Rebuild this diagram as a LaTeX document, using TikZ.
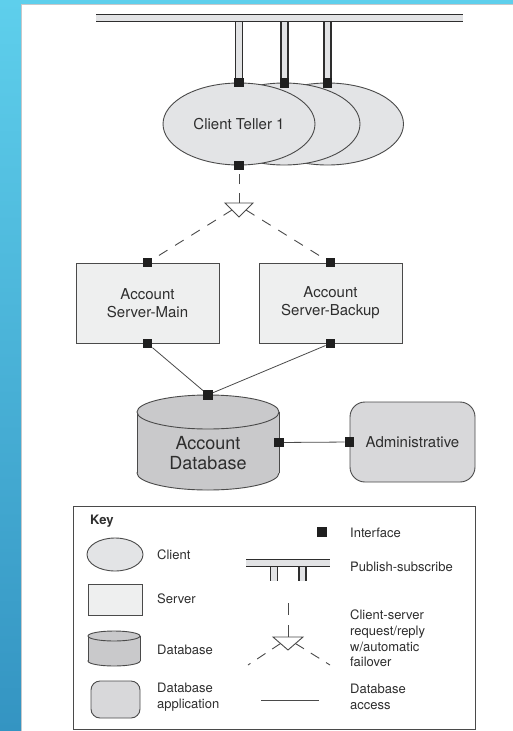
\documentclass[tikz,border=0pt]{standalone}
\usepackage{fontspec}
\setmainfont{TeX Gyre Heros}
\usetikzlibrary{shapes.geometric}
\definecolor{ink}{HTML}{2E2E2E}
\definecolor{edge}{HTML}{4A4A4A}
\definecolor{clientfill}{HTML}{E3E4E6}
\definecolor{serverfill}{HTML}{EEEFEF}
\definecolor{dbfill}{HTML}{C9C9CB}
\definecolor{appfill}{HTML}{D8D8DA}
\definecolor{pipefill}{HTML}{E2E3E5}
\definecolor{skytop}{HTML}{5ECFEC}
\definecolor{skybot}{HTML}{3494C2}
\definecolor{rim}{HTML}{C6C8CA}
\tikzset{
  every node/.style={text=ink},
  iface/.style={rectangle, fill=black!88, minimum size=9.5pt, inner sep=0pt},
  client/.style={ellipse, draw=edge, fill=clientfill, line width=0.9pt, minimum width=152pt, minimum height=82pt, inner sep=0pt, font=\fontsize{15}{18}\selectfont},
  server/.style={rectangle, draw=edge, fill=serverfill, line width=0.9pt, minimum width=143pt, minimum height=80pt, inner sep=0pt, align=center, font=\fontsize{15}{18}\selectfont},
  app/.style={rectangle, rounded corners=15pt, draw=edge, fill=appfill, line width=0.9pt, minimum width=125pt, minimum height=80pt, inner sep=0pt, font=\fontsize{15}{18}\selectfont},
  pipe/.style={draw=ink, line width=1.2pt, double=pipefill, double distance=5.8pt},
  req/.style={draw=edge, line width=0.9pt, dash pattern=on 10pt off 9pt},
  dbline/.style={draw=edge, line width=0.8pt},
  tri/.style={draw=edge, fill=white, line width=0.9pt, line join=miter},
  keytext/.style={anchor=west, align=left, inner sep=0pt, font=\fontsize{13}{15.7}\selectfont},
}
\begin{document}
\begin{tikzpicture}[x=1pt,y=-1pt]
\useasboundingbox (0,0) rectangle (513,731);
% background
\fill[white] (0,0) rectangle (513,731);
\shade[top color=skytop,bottom color=skybot] (0,0) rectangle (21,731);
\fill[skytop] (21,0) rectangle (513,3.5);
\draw[rim, line width=1.4pt] (21.7,731) -- (21.7,4.3) -- (513,4.3);

% ---------- clients ----------
\node[client] (c3) at (327.5,124) {};
\node[client] (c2) at (284,124) {};
\node[client] (c1) at (239,124) {Client Teller 1};

% publish-subscribe bus
\coordinate (busL) at (96,18);
\coordinate (busR) at (463,18);
\coordinate (bus1) at (239,18);
\coordinate (bus2) at (284.5,18);
\coordinate (bus3) at (327.5,18);
\node[iface] (i1) at (c1.north) {};
\node[iface] (i2) at (284.5,83) {};
\node[iface] (i3) at (327.5,83) {};
\draw[pipe] (bus1) -- (i1.center);
\draw[pipe] (bus2) -- (i2.center);
\draw[pipe] (bus3) -- (i3.center);
\draw[pipe] (busL) -- (busR);
\node[iface] at (i1) {};
\node[iface] at (i2) {};
\node[iface] at (i3) {};

% request/reply with failover
\node[iface] (c1b) at (c1.south) {};
\coordinate (tri) at (239,203);
\coordinate (triL) at (232,210);
\coordinate (triR) at (246,210);

\node[server] (s1) at (147.5,303) {Account\\Server-Main};
\node[server] (s2) at (330.5,303) {Account\\Server-Backup};
\node[iface] (s1t) at (s1.north) {};
\node[iface] (s2t) at (s2.north) {};
\node[iface] (s1b) at (s1.south) {};
\node[iface] (s2b) at (s2.south) {};

\draw[req] (tri) -- (c1b);
\draw[req] (triL) -- (s1t);
\draw[req] (triR) -- (s2t);
\draw[tri] (225,203) -- (253,203) -- (239,217) -- cycle;

% ---------- database ----------
\draw[edge, fill=dbfill, line width=0.9pt] (208,473) ellipse [x radius=71, y radius=17];
\fill[dbfill] (137,412) rectangle (279,473);
\draw[edge, line width=0.9pt] (137,412) -- (137,473) (279,412) -- (279,473);
\draw[edge, fill=dbfill, line width=0.9pt] (208,412) ellipse [x radius=71, y radius=17];
\node[minimum width=142pt, minimum height=95pt, inner sep=0pt] (db) at (208,442.5) {};
\node[align=center, font=\fontsize{18}{20}\selectfont, inner sep=0pt] (dblabel) at (208,453) {Account\\Database};

\node[app] (adm) at (412.5,442) {Administrative};

\node[iface] (dbt) at (db.north) {};
\node[iface] (dbr) at (db.east) {};
\node[iface] (admw) at (adm.west) {};
\draw[dbline] (s1b) -- (dbt);
\draw[dbline] (s2b) -- (dbt);
\draw[dbline] (dbr) -- (admw);

% ---------- key ----------
\node[draw=edge, line width=0.9pt, minimum width=402pt, minimum height=223pt, inner sep=0pt] (key) at (274,617.5) {};
\node[anchor=west, inner sep=0pt, font=\fontsize{13}{15.7}\selectfont\bfseries] (keyt) at (90,521) {Key};

\node[client, minimum width=56pt, minimum height=33pt] (kc) at (115,554.5) {};
\node[keytext] (kct) at (157,555) {Client};

\node[server, minimum width=54pt, minimum height=31pt] (ks) at (115,599.5) {};
\node[keytext] (kst) at (157,599) {Server};

\draw[edge, fill=dbfill, line width=0.9pt] (114,661) ellipse [x radius=26, y radius=5];
\fill[dbfill] (88,636) rectangle (140,661);
\draw[edge, line width=0.9pt] (88,636) -- (88,661) (140,636) -- (140,661);
\draw[edge, fill=dbfill, line width=0.9pt] (114,636) ellipse [x radius=26, y radius=5];
\node[minimum width=52pt, minimum height=35pt, inner sep=0pt] (kdb) at (114,648.5) {};
\node[keytext] (kdbt) at (157,650) {Database};

\node[app, rounded corners=9pt, minimum width=49pt, minimum height=37pt] (kapp) at (115.5,699.5) {};
\node[keytext] (kappt) at (157,697) {Database\\application};

\node[iface, minimum size=10pt] (ki) at (322,532) {};
\node[keytext] (kit) at (350,533) {Interface};

\coordinate (kbusL) at (246,563);
\coordinate (kbusR) at (330,563);
\coordinate (kp1) at (274,563);
\coordinate (kp2) at (302.5,563);
\coordinate (kp1e) at (274,581);
\coordinate (kp2e) at (302.5,581);
\draw[pipe] (kp1) -- (kp1e);
\draw[pipe] (kp2) -- (kp2e);
\draw[pipe] (kbusL) -- (kbusR);
\node[keytext] (kpst) at (350,567) {Publish-subscribe};

\coordinate (kreqT) at (288,603);
\coordinate (ktri) at (288,637);
\coordinate (ktriL) at (280.5,643.5);
\coordinate (ktriR) at (295.5,643.5);
\coordinate (kreqL) at (248,665);
\coordinate (kreqR) at (330,665);
\draw[req, dash pattern=on 12pt off 10pt] (kreqT) -- (ktri);
\draw[req, dash pattern=on 10pt off 8pt] (ktriL) -- (kreqL);
\draw[req, dash pattern=on 10pt off 8pt] (ktriR) -- (kreqR);
\draw[tri] (273,637) -- (303,637) -- (288,650) -- cycle;
\node[keytext] (kreqt) at (350,638.5) {Client-server\\request/reply\\w/automatic\\failover};

\coordinate (kdl1) at (261,700);
\coordinate (kdl2) at (319,700);
\draw[dbline] (kdl1) -- (kdl2);
\node[keytext] (kdlt) at (350,697) {Database\\access};
\end{tikzpicture}
\end{document}
